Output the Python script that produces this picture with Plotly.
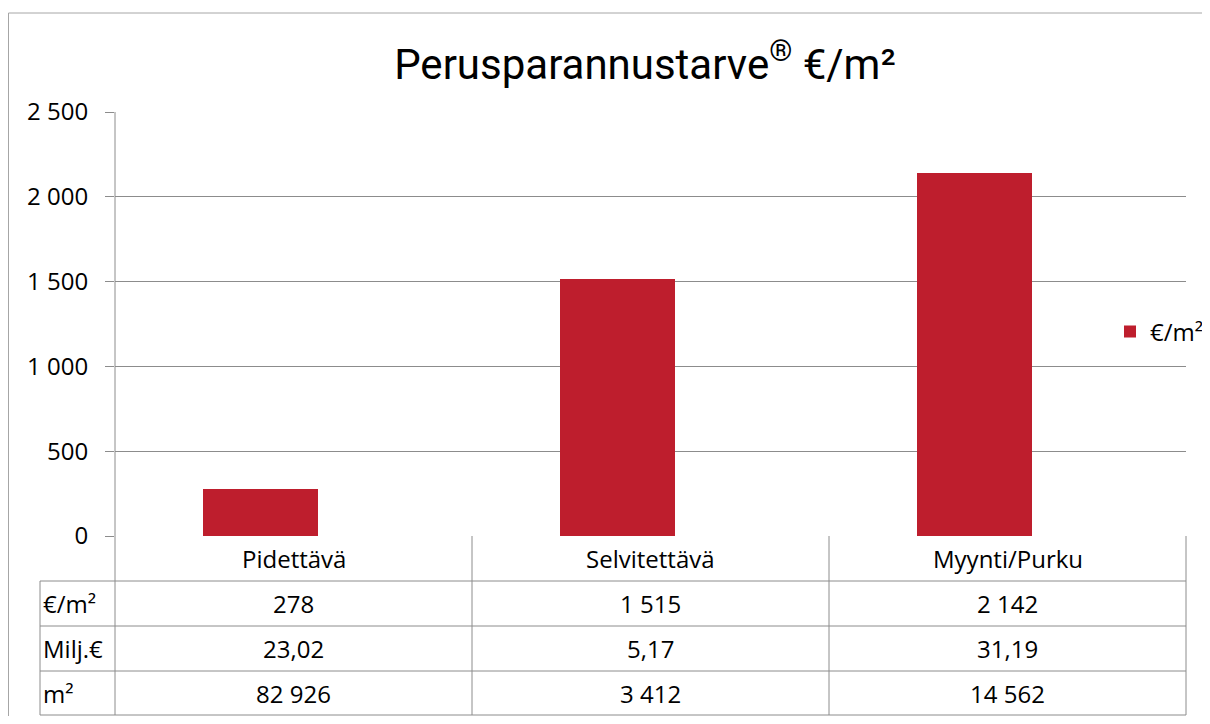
import plotly.graph_objects as go

categories = ["Pidettävä", "Selvitettävä", "Myynti/Purku"]
eur_per_m2 = [278, 1515, 2142]
milj_eur = ["23,02", "5,17", "31,19"]
m2 = [82926, 3412, 14562]
row_labels = ["€/m²", "Milj.€", "m²"]
y_ticks = [0, 500, 1000, 1500, 2000, 2500]

OFF = 8  # page body margin
W, H = 1210 - 2 * OFF, 724 - 2 * OFF
def px(x):
    return (x - OFF) / W
def py(y):
    return (H - (y - OFF)) / H

BAR = "#BE1E2D"
GRID = "#8C8C8C"
FONT = "Open Sans, Noto Sans, sans-serif"
FS = 24

def fmt_int(v):
    return f"{v:,}".replace(",", " ")

fig = go.Figure()
fig.add_trace(go.Bar(
    x=list(range(len(categories))), y=eur_per_m2, name="€/m²",
    marker=dict(color=BAR, line=dict(width=0)),
    width=0.322, offset=-0.254,
))

shapes = []
def line(x0, y0, x1, y1, color=GRID, w=1):
    shapes.append(dict(type="line", xref="paper", yref="paper",
                       x0=px(x0), y0=py(y0), x1=px(x1), y1=py(y1),
                       line=dict(color=color, width=w)))

# outer chart border
line(8.5, 13, 1210, 13, "#A6A6A6")
line(8.5, 13, 8.5, 716, "#A6A6A6")

# table lines
col_x = [115, 472, 829, 1186]
row_y = [536, 581, 626, 671, 715]
line(115, 112, 115, 715)
for cx in col_x[1:]:
    line(cx, 536, cx, 715)
line(40, 581, 40, 715)
for ry in row_y[1:]:
    line(40, ry, 1186, ry)

annotations = []
for i, c in enumerate(categories):
    annotations.append(dict(x=i, y=py(558), xref="x", yref="paper", text=c,
                            xanchor="center", yanchor="middle",
                            showarrow=False, font=dict(size=FS, family=FONT, color="#000")))
rows = [[fmt_int(v) for v in eur_per_m2], milj_eur, [fmt_int(v) for v in m2]]
centers = [603, 648, 693]
for r, (lab, vals) in enumerate(zip(row_labels, rows)):
    annotations.append(dict(x=px(41), y=py(centers[r]), xref="paper", yref="paper",
                            text=lab, xanchor="left", yanchor="middle", showarrow=False,
                            font=dict(size=FS, family=FONT, color="#000")))
    for i, v in enumerate(vals):
        annotations.append(dict(x=i, y=py(centers[r]), xref="x", yref="paper", text=v,
                                xanchor="center", yanchor="middle",
                                showarrow=False, font=dict(size=FS, family=FONT, color="#000")))

fig.update_layout(
    width=W, height=H,
    margin=dict(l=0, r=0, t=0, b=0, autoexpand=False),
    paper_bgcolor="white", plot_bgcolor="white",
    separators=", ",
    title=dict(text="Perusparannustarve<sup>®</sup> €/m²", x=px(645), xanchor="center",
               y=py(64), yanchor="middle",
               font=dict(family="Roboto, sans-serif", size=42, color="#000")),
    xaxis=dict(domain=[px(115), px(1186)], range=[-0.5, 2.5], showticklabels=False,
               showgrid=False, zeroline=False, fixedrange=True, automargin=False),
    yaxis=dict(domain=[py(536), py(112)], range=[0, 2500], tickvals=y_ticks,
               tickformat=",d", showgrid=True, gridcolor=GRID, gridwidth=1,
               zeroline=False, ticks="outside", ticklen=9, tickcolor=GRID,
               ticklabelstandoff=12, automargin=False,
               tickfont=dict(size=FS, family=FONT, color="#000")),
    showlegend=True,
    legend=dict(x=px(1110), y=py(332), xanchor="left", yanchor="middle",
                font=dict(size=FS, family=FONT, color="#000"),
                itemwidth=30, bgcolor="rgba(0,0,0,0)"),
    shapes=shapes, annotations=annotations,
    bargap=0,
)

fig.write_html("out.html")
